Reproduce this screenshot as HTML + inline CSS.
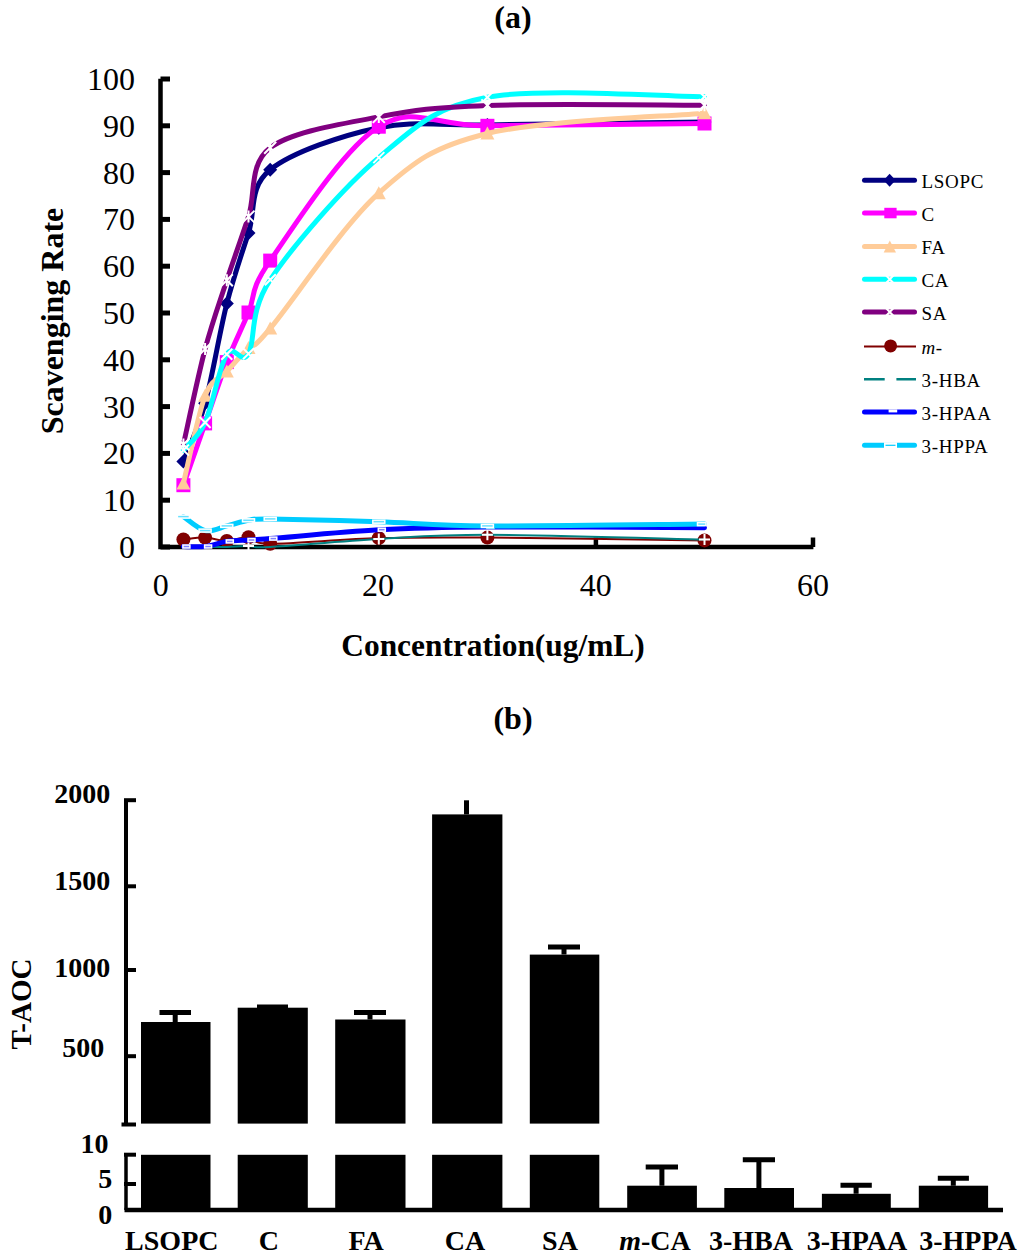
<!DOCTYPE html><html><head><meta charset="utf-8"><style>html,body{margin:0;padding:0;background:#fff;overflow:hidden;width:1024px;height:1257px;}svg{display:block;}text{font-family:"Liberation Serif",serif;}</style></head><body>
<svg width="1024" height="1257" viewBox="0 0 1024 1257">
<rect width="1024" height="1257" fill="#fff"/>
<text x="513" y="28" font-size="32" font-weight="bold" text-anchor="middle">(a)</text>
<path d="M160.5,78.7 L160.5,547 L813.4,547" stroke="#000" stroke-width="4.5" fill="none"/>
<path d="M160.5,547.0 L170,547.0" stroke="#000" stroke-width="5"/>
<text x="135" y="558.0" font-size="32" text-anchor="end">0</text>
<path d="M160.5,500.2 L170,500.2" stroke="#000" stroke-width="5"/>
<text x="135" y="511.2" font-size="32" text-anchor="end">10</text>
<path d="M160.5,453.4 L170,453.4" stroke="#000" stroke-width="5"/>
<text x="135" y="464.4" font-size="32" text-anchor="end">20</text>
<path d="M160.5,406.6 L170,406.6" stroke="#000" stroke-width="5"/>
<text x="135" y="417.6" font-size="32" text-anchor="end">30</text>
<path d="M160.5,359.8 L170,359.8" stroke="#000" stroke-width="5"/>
<text x="135" y="370.8" font-size="32" text-anchor="end">40</text>
<path d="M160.5,313.0 L170,313.0" stroke="#000" stroke-width="5"/>
<text x="135" y="324.0" font-size="32" text-anchor="end">50</text>
<path d="M160.5,266.2 L170,266.2" stroke="#000" stroke-width="5"/>
<text x="135" y="277.2" font-size="32" text-anchor="end">60</text>
<path d="M160.5,219.4 L170,219.4" stroke="#000" stroke-width="5"/>
<text x="135" y="230.4" font-size="32" text-anchor="end">70</text>
<path d="M160.5,172.6 L170,172.6" stroke="#000" stroke-width="5"/>
<text x="135" y="183.6" font-size="32" text-anchor="end">80</text>
<path d="M160.5,125.8 L170,125.8" stroke="#000" stroke-width="5"/>
<text x="135" y="136.8" font-size="32" text-anchor="end">90</text>
<path d="M160.5,79.0 L170,79.0" stroke="#000" stroke-width="5"/>
<text x="135" y="90.0" font-size="32" text-anchor="end">100</text>
<path d="M378.8,547 L378.8,537.5" stroke="#000" stroke-width="4.5"/>
<path d="M595.9,547 L595.9,537.5" stroke="#000" stroke-width="4.5"/>
<path d="M813.0,547 L813.0,537.5" stroke="#000" stroke-width="4.5"/>
<text x="160.8" y="595.8" font-size="32" text-anchor="middle">0</text>
<text x="377.9" y="595.8" font-size="32" text-anchor="middle">20</text>
<text x="595.7" y="595.8" font-size="32" text-anchor="middle">40</text>
<text x="813.0" y="595.8" font-size="32" text-anchor="middle">60</text>
<text transform="translate(63,321) rotate(-90)" x="0" y="0" font-size="32" font-weight="bold" text-anchor="middle">Scavenging Rate</text>
<text x="493" y="656.3" font-size="31.4" font-weight="bold" text-anchor="middle">Concentration(ug/mL)</text>
<path d="M183.4,461.4 C187.0,451.7 197.9,429.6 205.1,403.3 C212.4,377.0 219.6,332.0 226.8,303.6 C234.1,275.2 241.3,255.3 248.5,233.0 C255.8,210.7 248.5,187.3 270.2,169.8 C292.0,152.2 342.6,135.2 378.8,127.7 C415.0,120.2 433.1,125.8 487.4,124.9 C541.6,123.9 668.3,122.5 704.5,122.1" stroke="#000080" stroke-width="5" fill="none" stroke-linecap="round" stroke-linejoin="round"/>
<path d="M183.4,454.4 L190.4,461.4 L183.4,468.4 L176.4,461.4 Z" fill="#000080"/>
<path d="M205.1,396.3 L212.1,403.3 L205.1,410.3 L198.1,403.3 Z" fill="#000080"/>
<path d="M226.8,296.6 L233.8,303.6 L226.8,310.6 L219.8,303.6 Z" fill="#000080"/>
<path d="M248.5,226.0 L255.5,233.0 L248.5,240.0 L241.5,233.0 Z" fill="#000080"/>
<path d="M270.2,162.8 L277.2,169.8 L270.2,176.8 L263.2,169.8 Z" fill="#000080"/>
<path d="M378.8,120.7 L385.8,127.7 L378.8,134.7 L371.8,127.7 Z" fill="#000080"/>
<path d="M487.4,117.9 L494.4,124.9 L487.4,131.9 L480.4,124.9 Z" fill="#000080"/>
<path d="M704.5,115.1 L711.5,122.1 L704.5,129.1 L697.5,122.1 Z" fill="#000080"/>
<path d="M183.4,485.2 C187.0,474.9 197.9,444.0 205.1,423.4 C212.4,402.9 219.6,380.6 226.8,362.1 C234.1,343.7 241.3,329.5 248.5,312.5 C255.8,295.6 248.5,291.6 270.2,260.6 C292.0,229.6 342.6,149.2 378.8,126.7 C415.0,104.3 433.1,126.3 487.4,125.8 C541.6,125.3 668.3,123.9 704.5,123.5" stroke="#FF00FF" stroke-width="5" fill="none" stroke-linecap="round" stroke-linejoin="round"/>
<rect x="176.4" y="478.2" width="14" height="14" fill="#FF00FF"/>
<rect x="198.1" y="416.4" width="14" height="14" fill="#FF00FF"/>
<rect x="219.8" y="355.1" width="14" height="14" fill="#FF00FF"/>
<rect x="241.5" y="305.5" width="14" height="14" fill="#FF00FF"/>
<rect x="263.2" y="253.6" width="14" height="14" fill="#FF00FF"/>
<rect x="371.8" y="119.7" width="14" height="14" fill="#FF00FF"/>
<rect x="480.4" y="118.8" width="14" height="14" fill="#FF00FF"/>
<rect x="697.5" y="116.5" width="14" height="14" fill="#FF00FF"/>
<path d="M183.4,483.4 C187.0,468.8 197.9,414.5 205.1,395.8 C212.4,377.2 219.6,379.5 226.8,371.5 C234.1,363.5 241.3,355.3 248.5,348.1 C255.8,340.9 248.5,354.3 270.2,328.4 C292.0,302.6 342.6,225.7 378.8,193.2 C415.0,160.7 433.1,146.9 487.4,133.5 C541.6,120.2 668.3,116.6 704.5,113.2" stroke="#FFCC99" stroke-width="5" fill="none" stroke-linecap="round" stroke-linejoin="round"/>
<path d="M183.4,476.4 L190.4,489.4 L176.4,489.4 Z" fill="#FFCC99"/>
<path d="M205.1,388.8 L212.1,401.8 L198.1,401.8 Z" fill="#FFCC99"/>
<path d="M226.8,364.5 L233.8,377.5 L219.8,377.5 Z" fill="#FFCC99"/>
<path d="M248.5,341.1 L255.5,354.1 L241.5,354.1 Z" fill="#FFCC99"/>
<path d="M270.2,321.4 L277.2,334.4 L263.2,334.4 Z" fill="#FFCC99"/>
<path d="M378.8,186.2 L385.8,199.2 L371.8,199.2 Z" fill="#FFCC99"/>
<path d="M487.4,126.5 L494.4,139.5 L480.4,139.5 Z" fill="#FFCC99"/>
<path d="M704.5,106.2 L711.5,119.2 L697.5,119.2 Z" fill="#FFCC99"/>
<path d="M183.4,450.1 C187.0,445.5 197.9,438.5 205.1,422.5 C212.4,406.5 219.6,365.6 226.8,354.2 C234.1,342.7 241.3,366.1 248.5,353.7 C255.8,341.3 248.5,312.5 270.2,279.8 C292.0,247.1 342.6,188.0 378.8,157.6 C415.0,127.2 433.1,107.4 487.4,97.3 C541.6,87.1 668.3,96.9 704.5,96.8" stroke="#00FFFF" stroke-width="5" fill="none" stroke-linecap="round" stroke-linejoin="round"/>
<path d="M177.9,444.6 L188.9,455.6 M188.9,444.6 L177.9,455.6" stroke="#fff" stroke-width="2"/>
<path d="M199.6,417.0 L210.6,428.0 M210.6,417.0 L199.6,428.0" stroke="#fff" stroke-width="2"/>
<path d="M221.3,348.7 L232.3,359.7 M232.3,348.7 L221.3,359.7" stroke="#fff" stroke-width="2"/>
<path d="M243.0,348.2 L254.0,359.2 M254.0,348.2 L243.0,359.2" stroke="#fff" stroke-width="2"/>
<path d="M264.8,274.3 L275.8,285.3 M275.8,274.3 L264.8,285.3" stroke="#fff" stroke-width="2"/>
<path d="M373.3,152.1 L384.3,163.1 M384.3,152.1 L373.3,163.1" stroke="#fff" stroke-width="2"/>
<path d="M481.9,91.8 L492.9,102.8 M492.9,91.8 L481.9,102.8" stroke="#fff" stroke-width="2"/>
<path d="M699.0,91.3 L710.0,102.3 M710.0,91.3 L699.0,102.3" stroke="#fff" stroke-width="2"/>
<path d="M183.4,444.5 C187.0,428.6 197.9,376.4 205.1,349.0 C212.4,321.7 219.6,302.3 226.8,280.2 C234.1,258.2 241.3,238.7 248.5,216.6 C255.8,194.5 248.5,164.4 270.2,147.8 C292.0,131.2 342.6,124.0 378.8,116.9 C415.0,109.8 433.1,107.4 487.4,105.4 C541.6,103.5 668.3,105.2 704.5,105.2" stroke="#800080" stroke-width="5" fill="none" stroke-linecap="round" stroke-linejoin="round"/>
<path d="M177.4,438.5 L189.4,450.5 M189.4,438.5 L177.4,450.5 M183.4,438.5 L183.4,450.5" stroke="#fff" stroke-width="2"/>
<path d="M199.1,343.0 L211.1,355.0 M211.1,343.0 L199.1,355.0 M205.1,343.0 L205.1,355.0" stroke="#fff" stroke-width="2"/>
<path d="M220.8,274.2 L232.8,286.2 M232.8,274.2 L220.8,286.2 M226.8,274.2 L226.8,286.2" stroke="#fff" stroke-width="2"/>
<path d="M242.5,210.6 L254.5,222.6 M254.5,210.6 L242.5,222.6 M248.5,210.6 L248.5,222.6" stroke="#fff" stroke-width="2"/>
<path d="M264.2,141.8 L276.2,153.8 M276.2,141.8 L264.2,153.8 M270.2,141.8 L270.2,153.8" stroke="#fff" stroke-width="2"/>
<path d="M372.8,110.9 L384.8,122.9 M384.8,110.9 L372.8,122.9 M378.8,110.9 L378.8,122.9" stroke="#fff" stroke-width="2"/>
<path d="M481.4,99.4 L493.4,111.4 M493.4,99.4 L481.4,111.4 M487.4,99.4 L487.4,111.4" stroke="#fff" stroke-width="2"/>
<path d="M698.5,99.2 L710.5,111.2 M710.5,99.2 L698.5,111.2 M704.5,99.2 L704.5,111.2" stroke="#fff" stroke-width="2"/>
<path d="M183.4,539.5 C187.0,539.2 197.9,537.4 205.1,537.6 C212.4,537.9 219.6,541.0 226.8,540.9 C234.1,540.8 241.3,536.7 248.5,537.2 C255.8,537.6 248.5,543.6 270.2,543.7 C292.0,543.9 342.6,539.1 378.8,538.1 C415.0,537.1 433.1,537.2 487.4,537.6 C541.6,538.0 668.3,540.0 704.5,540.4" stroke="#800000" stroke-width="2" fill="none" stroke-linecap="round" stroke-linejoin="round"/>
<circle cx="183.4" cy="539.5" r="7" fill="#800000"/>
<circle cx="205.1" cy="537.6" r="7" fill="#800000"/>
<circle cx="226.8" cy="540.9" r="7" fill="#800000"/>
<circle cx="248.5" cy="537.2" r="7" fill="#800000"/>
<circle cx="270.2" cy="543.7" r="7" fill="#800000"/>
<circle cx="378.8" cy="538.1" r="7" fill="#800000"/>
<circle cx="487.4" cy="537.6" r="7" fill="#800000"/>
<circle cx="704.5" cy="540.4" r="7" fill="#800000"/>
<path d="M183.4,547.0 C187.0,547.0 197.9,547.0 205.1,547.0 C212.4,547.0 219.6,547.2 226.8,547.0 C234.1,546.8 241.3,546.1 248.5,546.1 C255.8,546.1 248.5,548.2 270.2,547.0 C292.0,545.8 342.6,541.1 378.8,539.0 C415.0,537.0 433.1,534.8 487.4,534.8 C541.6,534.9 668.3,538.7 704.5,539.5" stroke="#008080" stroke-width="2" fill="none" stroke-linecap="round" stroke-linejoin="round"/>
<path d="M243.0,546.1 L254.0,546.1 M248.5,540.6 L248.5,551.6" stroke="#fff" stroke-width="2"/>
<path d="M373.3,539.0 L384.3,539.0 M378.8,533.5 L378.8,544.5" stroke="#fff" stroke-width="2"/>
<path d="M481.9,534.8 L492.9,534.8 M487.4,529.3 L487.4,540.3" stroke="#fff" stroke-width="2"/>
<path d="M699.0,539.5 L710.0,539.5 M704.5,534.0 L704.5,545.0" stroke="#fff" stroke-width="2"/>
<path d="M183.4,546.5 C187.0,546.5 197.9,547.4 205.1,546.5 C212.4,545.7 219.6,542.5 226.8,541.4 C234.1,540.3 241.3,540.4 248.5,540.0 C255.8,539.5 248.5,540.3 270.2,538.6 C292.0,536.9 342.6,531.6 378.8,529.7 C415.0,527.7 433.1,527.2 487.4,526.9 C541.6,526.6 668.3,527.7 704.5,527.8" stroke="#0000FF" stroke-width="5" fill="none" stroke-linecap="round" stroke-linejoin="round"/>
<rect x="182.9" y="545.0" width="7" height="3" fill="#8080ff" stroke="#fff" stroke-width="1.5"/>
<rect x="204.6" y="545.0" width="7" height="3" fill="#8080ff" stroke="#fff" stroke-width="1.5"/>
<rect x="226.3" y="539.9" width="7" height="3" fill="#8080ff" stroke="#fff" stroke-width="1.5"/>
<rect x="248.0" y="538.5" width="7" height="3" fill="#8080ff" stroke="#fff" stroke-width="1.5"/>
<rect x="269.8" y="537.1" width="7" height="3" fill="#8080ff" stroke="#fff" stroke-width="1.5"/>
<rect x="378.3" y="528.2" width="7" height="3" fill="#8080ff" stroke="#fff" stroke-width="1.5"/>
<rect x="486.9" y="525.4" width="7" height="3" fill="#8080ff" stroke="#fff" stroke-width="1.5"/>
<path d="M183.4,516.6 C187.0,518.9 197.9,529.1 205.1,530.6 C212.4,532.2 219.6,527.7 226.8,525.9 C234.1,524.2 241.3,521.5 248.5,520.3 C255.8,519.2 248.5,518.7 270.2,518.9 C292.0,519.2 342.6,520.6 378.8,521.7 C415.0,522.9 433.1,525.6 487.4,525.9 C541.6,526.3 668.3,524.4 704.5,524.1" stroke="#00CCFF" stroke-width="5" fill="none" stroke-linecap="round" stroke-linejoin="round"/>
<rect x="177.4" y="515.1" width="12" height="3" fill="#66e0ff" stroke="#fff" stroke-width="1.5"/>
<rect x="199.1" y="529.1" width="12" height="3" fill="#66e0ff" stroke="#fff" stroke-width="1.5"/>
<rect x="220.8" y="524.4" width="12" height="3" fill="#66e0ff" stroke="#fff" stroke-width="1.5"/>
<rect x="242.5" y="518.8" width="12" height="3" fill="#66e0ff" stroke="#fff" stroke-width="1.5"/>
<rect x="264.2" y="517.4" width="12" height="3" fill="#66e0ff" stroke="#fff" stroke-width="1.5"/>
<rect x="372.8" y="520.2" width="12" height="3" fill="#66e0ff" stroke="#fff" stroke-width="1.5"/>
<rect x="481.4" y="524.4" width="12" height="3" fill="#66e0ff" stroke="#fff" stroke-width="1.5"/>
<rect x="697.5" y="522.6" width="8.5" height="3" fill="#66e0ff" stroke="#fff" stroke-width="1.5"/>
<path d="M864.5,180.2 L914.5,180.2" stroke="#000080" stroke-width="5" stroke-linecap="round"/>
<path d="M889.6,173.7 L895.6,180.2 L889.6,186.7 L883.6,180.2 Z" fill="#000080"/>
<text x="921.4" y="187.9" font-size="19" letter-spacing="0.75">LSOPC</text>
<path d="M864.5,213.0 L914.5,213.0" stroke="#FF00FF" stroke-width="5" stroke-linecap="round"/>
<rect x="884.3" y="207.8" width="12.3" height="10.5" fill="#FF00FF"/>
<text x="921.4" y="220.7" font-size="19" letter-spacing="0.75">C</text>
<path d="M864.5,246.4 L914.5,246.4" stroke="#FFCC99" stroke-width="5" stroke-linecap="round"/>
<path d="M889.8,240.4 L896,252.4 L883.7,252.4 Z" fill="#FFCC99"/>
<text x="921.4" y="254.1" font-size="19" letter-spacing="0.75">FA</text>
<path d="M864.5,279.2 L914.5,279.2" stroke="#00FFFF" stroke-width="5" stroke-linecap="round"/>
<path d="M885,274.2 L894.5,284.2 M894.5,274.2 L885,284.2" stroke="#fff" stroke-width="2"/>
<text x="921.4" y="286.9" font-size="19" letter-spacing="0.75">CA</text>
<path d="M864.5,312.0 L914.5,312.0" stroke="#800080" stroke-width="5" stroke-linecap="round"/>
<path d="M885,307.0 L894.5,317.0 M894.5,307.0 L885,317.0" stroke="#fff" stroke-width="2"/>
<text x="921.4" y="319.7" font-size="19" letter-spacing="0.75">SA</text>
<path d="M864,346.4 L916,346.4" stroke="#800000" stroke-width="2"/>
<circle cx="890.6" cy="345.9" r="6.5" fill="#800000"/>
<text x="921.4" y="354.1" font-size="19" letter-spacing="0.75"><tspan font-style="italic">m-</tspan></text>
<path d="M864,379.2 L884.7,379.2 M896.4,379.2 L916,379.2" stroke="#008080" stroke-width="2.5"/>
<text x="921.4" y="386.9" font-size="19" letter-spacing="0.75">3-HBA</text>
<path d="M864.5,412.0 L914.5,412.0" stroke="#0000FF" stroke-width="5" stroke-linecap="round"/>
<rect x="888.6" y="409.4" width="8.6" height="3" fill="#fff"/>
<text x="921.4" y="419.7" font-size="19" letter-spacing="0.75">3-HPAA</text>
<path d="M864.5,445.3 L914.5,445.3" stroke="#00CCFF" stroke-width="5" stroke-linecap="round"/>
<rect x="884" y="442.3" width="13" height="6" fill="#fff"/><path d="M885.5,445.3 L895.5,445.3" stroke="#00CCFF" stroke-width="1.2"/>
<text x="921.4" y="453.0" font-size="19" letter-spacing="0.75">3-HPPA</text>
<text x="513" y="728.5" font-size="32" font-weight="bold" text-anchor="middle">(b)</text>
<path d="M126,800.2 L126,1124.5" stroke="#000" stroke-width="4"/>
<path d="M124,800.2 L136,800.2" stroke="#000" stroke-width="4"/>
<path d="M124,886.3 L136,886.3" stroke="#000" stroke-width="4"/>
<path d="M124,970.0 L136,970.0" stroke="#000" stroke-width="4"/>
<path d="M124,1056.2 L136,1056.2" stroke="#000" stroke-width="4"/>
<path d="M124,1124.5 L136,1124.5" stroke="#000" stroke-width="4"/>
<path d="M121.5,1124.5 L124,1124.5" stroke="#000" stroke-width="4"/>
<path d="M126,1154.7 L126,1210" stroke="#000" stroke-width="3.5"/>
<path d="M124,1154.7 L136,1154.7" stroke="#000" stroke-width="4"/>
<path d="M124,1184.0 L136,1184.0" stroke="#000" stroke-width="4"/>
<path d="M124.5,1210 L1003,1210" stroke="#000" stroke-width="4.5"/>
<text x="110.2" y="802.7" font-size="28" font-weight="bold" text-anchor="end">2000</text>
<text x="110.2" y="889.7" font-size="28" font-weight="bold" text-anchor="end">1500</text>
<text x="110.2" y="976.8" font-size="28" font-weight="bold" text-anchor="end">1000</text>
<text x="104.2" y="1056.6" font-size="28" font-weight="bold" text-anchor="end">500</text>
<text x="108.4" y="1152.7" font-size="28" font-weight="bold" text-anchor="end">10</text>
<text x="112.3" y="1188.0" font-size="28" font-weight="bold" text-anchor="end">5</text>
<text x="112.3" y="1224.0" font-size="28" font-weight="bold" text-anchor="end">0</text>
<text transform="translate(31.2,1004) rotate(-90)" font-size="29" font-weight="bold" text-anchor="middle">T-AOC</text>
<rect x="141.0" y="1022.0" width="69.5" height="101.6" fill="#000"/>
<rect x="141.0" y="1154.8" width="69.5" height="55.2" fill="#000"/>
<path d="M159.5,1012.5 L191.0,1012.5 M175.2,1012.5 L175.2,1022.0" stroke="#000" stroke-width="5"/>
<rect x="237.7" y="1007.7" width="70.1" height="115.9" fill="#000"/>
<rect x="237.7" y="1154.8" width="70.1" height="55.2" fill="#000"/>
<path d="M257.0,1007.1 L288.0,1007.1 M272.5,1007.1 L272.5,1007.7" stroke="#000" stroke-width="5"/>
<rect x="335.2" y="1019.5" width="70.3" height="104.1" fill="#000"/>
<rect x="335.2" y="1154.8" width="70.3" height="55.2" fill="#000"/>
<path d="M354.0,1012.5 L386.0,1012.5 M370.0,1012.5 L370.0,1019.5" stroke="#000" stroke-width="5"/>
<rect x="432.1" y="814.4" width="70.3" height="309.2" fill="#000"/>
<rect x="432.1" y="1154.8" width="70.3" height="55.2" fill="#000"/>
<rect x="529.8" y="954.6" width="69.5" height="169.0" fill="#000"/>
<rect x="529.8" y="1154.8" width="69.5" height="55.2" fill="#000"/>
<path d="M548.0,947.0 L580.0,947.0 M564.0,947.0 L564.0,954.6" stroke="#000" stroke-width="5"/>
<path d="M466.5,800.3 L466.5,814.4" stroke="#000" stroke-width="5"/>
<rect x="627.2" y="1185.7" width="69.7" height="24.3" fill="#000"/>
<path d="M645.7,1167.0 L678.0,1167.0 M661.9,1167.0 L661.9,1185.7" stroke="#000" stroke-width="5"/>
<rect x="724.3" y="1188.0" width="69.7" height="22.0" fill="#000"/>
<path d="M742.8,1159.8 L775.0,1159.8 M758.9,1159.8 L758.9,1188.0" stroke="#000" stroke-width="5"/>
<rect x="821.9" y="1193.8" width="68.9" height="16.2" fill="#000"/>
<path d="M840.5,1185.3 L871.8,1185.3 M856.1,1185.3 L856.1,1193.8" stroke="#000" stroke-width="5"/>
<rect x="918.8" y="1185.7" width="69.3" height="24.3" fill="#000"/>
<path d="M937.8,1178.3 L968.9,1178.3 M953.3,1178.3 L953.3,1185.7" stroke="#000" stroke-width="5"/>
<text x="171.8" y="1250.3" font-size="28" font-weight="bold" text-anchor="middle">LSOPC</text>
<text x="268.8" y="1250.3" font-size="28" font-weight="bold" text-anchor="middle">C</text>
<text x="366.0" y="1250.3" font-size="28" font-weight="bold" text-anchor="middle">FA</text>
<text x="465.0" y="1250.3" font-size="28" font-weight="bold" text-anchor="middle">CA</text>
<text x="560.0" y="1250.3" font-size="28" font-weight="bold" text-anchor="middle">SA</text>
<text x="655.0" y="1250.3" font-size="28" font-weight="bold" text-anchor="middle"><tspan font-style="italic">m</tspan>-CA</text>
<text x="751.0" y="1250.3" font-size="28" font-weight="bold" text-anchor="middle">3-HBA</text>
<text x="857.0" y="1250.3" font-size="28" font-weight="bold" text-anchor="middle">3-HPAA</text>
<text x="968.0" y="1250.3" font-size="28" font-weight="bold" text-anchor="middle">3-HPPA</text>
</svg></body></html>
